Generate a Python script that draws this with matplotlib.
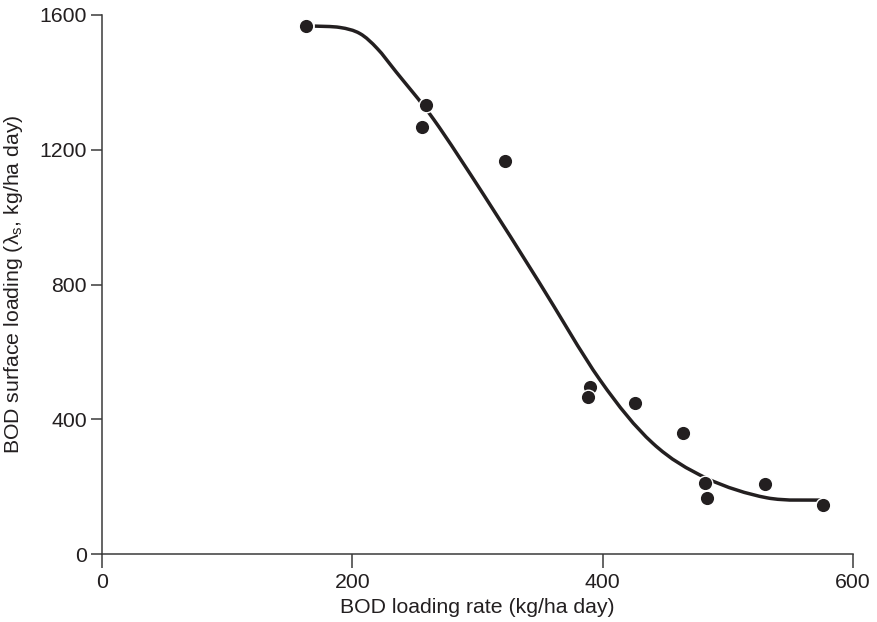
import matplotlib
matplotlib.use('Agg')
import matplotlib.pyplot as plt
from matplotlib.path import Path
from matplotlib.patches import PathPatch

plt.rcParams['font.family'] = ['Liberation Sans', 'DejaVu Sans']
plt.rcParams['mathtext.fontset'] = 'custom'
plt.rcParams['mathtext.rm'] = 'Liberation Sans'

# observed points
obs_x = [163, 259, 256, 322, 390, 388, 426, 464, 482, 483, 530, 576]
obs_y = [1567, 1332, 1267, 1168, 497, 467, 447, 358, 212, 167, 207, 145]

# fitted curve
fit_x = [170, 190, 206, 220, 235, 265, 305, 349, 398, 440, 483, 531, 574]
fit_y = [1567, 1563, 1545, 1500, 1431, 1290, 1066, 808, 516, 329, 225, 167, 160]

x_ticks = [0, 200, 400, 600]
y_ticks = [0, 400, 800, 1200, 1600]

ink = '#231f20'
axis_grey = '#3a3a3a'


def smooth_path(xs, ys):
    # Catmull-Rom through the read points, drawn as cubic Bezier segments
    pts = list(zip(xs, ys))
    verts = [pts[0]]
    codes = [Path.MOVETO]
    for i in range(len(pts) - 1):
        p0 = pts[i - 1] if i > 0 else pts[i]
        p1 = pts[i]
        p2 = pts[i + 1]
        p3 = pts[i + 2] if i + 2 < len(pts) else pts[i + 1]
        c1 = (p1[0] + (p2[0] - p0[0]) / 6, p1[1] + (p2[1] - p0[1]) / 6)
        c2 = (p2[0] - (p3[0] - p1[0]) / 6, p2[1] - (p3[1] - p1[1]) / 6)
        verts += [c1, c2, p2]
        codes += [Path.CURVE4] * 3
    return Path(verts, codes)


fig = plt.figure(figsize=(8.78, 6.22), dpi=100)
ax = fig.add_axes([0.1162, 0.1093, 0.8553, 0.8666])

ax.add_patch(PathPatch(smooth_path(fit_x, fit_y), facecolor='none', edgecolor=ink,
                       linewidth=2.5, capstyle='butt', zorder=2))
ax.plot(obs_x, obs_y, 'o', color=ink, markersize=10.5, markeredgecolor='white',
        markeredgewidth=1.0, zorder=3)

ax.set_xlim(0, 600)
ax.set_ylim(0, 1600)
ax.set_xticks(x_ticks)
ax.set_yticks(y_ticks)

for side in ['top', 'right']:
    ax.spines[side].set_visible(False)
for side in ['left', 'bottom']:
    ax.spines[side].set_color(axis_grey)
    ax.spines[side].set_linewidth(1.1)

ax.tick_params(axis='x', direction='out', length=10, width=1.1, color=axis_grey,
               labelsize=15.3, pad=4, labelcolor=ink)
ax.tick_params(axis='y', direction='out', length=8, width=1.1, color=axis_grey,
               labelsize=15.3, pad=3, labelcolor=ink)

ax.set_xlabel('BOD loading rate (kg/ha day)', fontsize=15.3, color=ink, labelpad=4)
ax.set_ylabel('BOD surface loading (λ$_\\mathregular{s}$, kg/ha day)', fontsize=15.3,
              color=ink, labelpad=10)

fig.savefig('out.png', dpi=100)
plt.close(fig)
